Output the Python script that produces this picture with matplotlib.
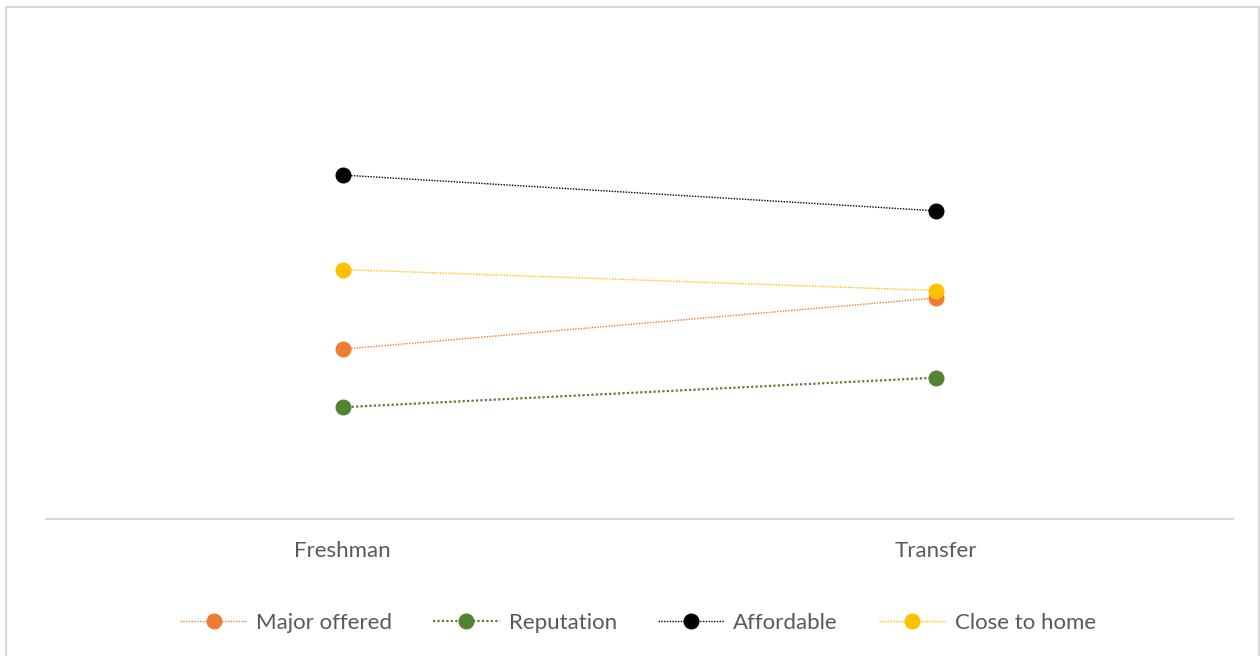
import matplotlib.pyplot as plt
from matplotlib.patches import Rectangle

categories = ["Freshman", "Transfer"]
series_names = ["Major offered", "Reputation", "Affordable", "Close to home"]
major_offered = [0.275, 0.358]
reputation = [0.181, 0.229]
affordable = [0.557, 0.499]
close_to_home = [0.404, 0.370]

colors = ["#ED7D31", "#548235", "#000000", "#FFC000"]
widths = [1.0, 1.6, 1.0, 1.0]

plt.rcParams['font.family'] = ['Lato', 'DejaVu Sans']

W, H = 1260, 656
fig = plt.figure(figsize=(W / 100, H / 100), dpi=100)
fig.patches.append(Rectangle((6 / W, -0.01), (1253 / W), (H - 7) / H + 0.01,
                             transform=fig.transFigure, fill=False,
                             edgecolor="#D9D9D9", linewidth=1.5))

ax = fig.add_axes([46 / W, 137 / H, 1187 / W, 494 / H])
x = [0.5, 1.5]
for vals, name, c, lw in zip([major_offered, reputation, affordable, close_to_home],
                             series_names, colors, widths):
    ax.plot(x, vals, linestyle=(0, (1, 1)), color=c, linewidth=lw,
            marker="o", markersize=10.5, markeredgecolor=c, markerfacecolor=c,
            label=name)

ax.set_xlim(0, 2)
ax.set_ylim(0, 0.8)
ax.set_xticks(x)
ax.set_xticklabels(categories, fontsize=16, color="#595959")
ax.tick_params(axis="x", length=0, pad=15.5)
ax.set_yticks([])
for s in ["top", "left", "right"]:
    ax.spines[s].set_visible(False)
ax.spines["bottom"].set_color("#D9D9D9")
ax.spines["bottom"].set_linewidth(1.5)

leg = fig.legend(loc="center", bbox_to_anchor=(0.5 + 8 / W, 1 - 623 / H), ncol=4,
                 frameon=False, fontsize=16, handlelength=3.0,
                 columnspacing=1.85, handletextpad=0.4)
for t in leg.get_texts():
    t.set_color("#595959")

fig.savefig("out.png", dpi=100)
